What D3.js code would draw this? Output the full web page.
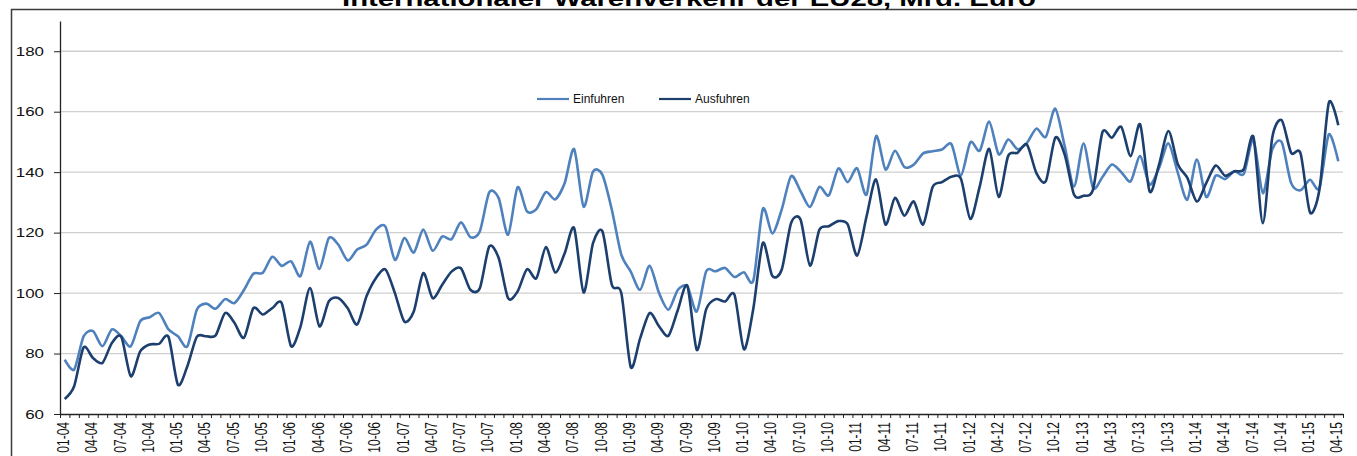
<!DOCTYPE html>
<html>
<head>
<meta charset="utf-8">
<script src="https://cdn.jsdelivr.net/npm/d3@7"></script>
<style>
  body { margin: 0; background: #fff; }
  svg { display: block; font-family: "Liberation Sans", Arial, sans-serif; }
</style>
</head>
<body>
<div id="plot"></div>
<script>
// chart data (Mrd. Euro, monthly 01-04 .. 04-15)
const years = [4, 5, 6, 7, 8, 9, 10, 11, 12, 13, 14, 15];
const monthNames = ["01", "02", "03", "04", "05", "06", "07", "08", "09", "10", "11", "12"];
const lastMonths = 4; // 2015 only up to April

const einfuhren = [78, 74.7, 85.7, 87.4, 82.4, 88, 85.7, 82.4, 90.7, 92, 93.4, 88,
  85.7, 82.4, 94.5, 96.5, 94.8, 98, 96.7, 101, 106.4, 106.7, 112, 109,
  110.5, 105.6, 117, 108, 118.2, 116, 110.8, 114.4, 116, 121, 122, 111,
  118.2, 113.4, 121, 114, 118.7, 117.8, 123.4, 118.5, 120.4, 133.3, 131.4, 119.3,
  135, 127, 127.8, 133.4, 131, 136.4, 147.6, 128.6, 140.2, 139.1, 127.5, 112.7,
  107.1, 101.1, 109, 100, 94.5, 101.1, 102.2, 93.9, 107.2, 107.2, 108.3, 105.3,
  106.9, 104.2, 127.8, 119.7, 127.6, 138.7, 133.7, 128.5, 135.1, 132.3, 141.2, 136.7,
  141.3, 132.6, 151.9, 140.9, 147.1, 141.7, 142.5, 146.2, 146.9, 147.5, 149.2, 138.9,
  149.9, 147.1, 156.7, 145.9, 150.8, 147.6, 149.7, 154.4, 151.7, 161, 148.6, 135.3,
  149.5, 134.8, 138.4, 142.5, 140, 137, 145.3, 135.9, 141.4, 149.5, 139.7, 130.9,
  144.2, 131.8, 138.8, 137.7, 140.3, 139.5, 150.8, 133.1, 147.5, 149.9, 136.4, 134,
  137.5, 134.8, 152.5, 143.6];

const ausfuhren = [65, 69.2, 82, 78.5, 76.9, 83.5, 85.5, 72.5, 80.7, 83, 83.2, 85.5,
  69.7, 75.8, 85.5, 85.7, 86, 93.4, 90.1, 85.2, 95, 92.9, 95, 96.7,
  82.4, 89, 101.7, 89, 97.3, 98.4, 95, 89.6, 99, 105, 107.8, 100,
  90.6, 93.9, 106.6, 98.3, 102.7, 107.1, 108.2, 101.1, 101.6, 115.4, 111.6, 98.3,
  100.5, 107.9, 104.9, 115.2, 106.8, 113.2, 121.5, 100.2, 116.5, 120.4, 102.7, 100,
  75.5, 85.1, 93.4, 89, 85.9, 94.5, 102.4, 81.2, 94.7, 98, 97.2, 99.4,
  81.4, 95, 116.6, 105.7, 107.7, 123.2, 124.3, 109.1, 121, 122.1, 123.8, 122.7,
  112.4, 125.4, 137.6, 122.7, 131.5, 125.6, 130.3, 122.7, 135.1, 136.7, 138.5, 137.8,
  124.5, 135.4, 147.7, 131.8, 145.3, 146.4, 149.1, 139.7, 137, 151.4, 145.8, 132.5,
  132.2, 134.2, 153.2, 151.4, 155, 145.3, 155.8, 133.6, 142.5, 153.6, 142.5, 138.1,
  130.3, 136.4, 142.2, 138.8, 140.3, 141.1, 151.7, 123.1, 151.4, 157.2, 146.4, 146.2,
  126.7, 134.2, 163, 155.5];

const yTicks = [60, 80, 100, 120, 140, 160, 180];
const seriesNames = ["Einfuhren", "Ausfuhren"];

// month categories like "01-04"
const months = [];
years.forEach((yr, yi) => {
  const n = yi === years.length - 1 ? lastMonths : 12;
  for (let m = 0; m < n; m++) months.push(monthNames[m] + "-" + String(yr).padStart(2, "0"));
});
const tickLabels = months.filter((d, i) => i % 3 === 0);

const width = 1357, height = 456;
const plotLeft = 60, plotRight = 1343, plotTop = 21, plotBottom = 414;
const colors = ["#4F81BD", "#1C3F6E"];

const svg = d3.select("#plot").append("svg")
  .attr("width", width)
  .attr("height", height);

// outer chart frame (only left and top visible)
svg.append("path")
  .attr("d", `M11.5,${height} V9.5 H${width}`)
  .attr("fill", "none")
  .attr("stroke", "#3a3a3a")
  .attr("stroke-width", 1.5);

// title, cut off at the top
svg.append("text")
  .attr("x", 689)
  .attr("y", 6)
  .attr("text-anchor", "middle")
  .attr("font-size", 22)
  .attr("font-weight", "bold")
  .attr("textLength", 694)
  .attr("lengthAdjust", "spacingAndGlyphs")
  .text("Internationaler Warenverkehr der EU28, Mrd. Euro");

const x = d3.scaleBand().domain(months).range([plotLeft, plotRight]).padding(0);
const xEdge = d3.scaleLinear().domain([0, months.length]).range([plotLeft, plotRight]);
const y = d3.scaleLinear().domain([60, 190]).range([plotBottom, plotTop]);

// gridlines
svg.append("g")
  .selectAll("line")
  .data(yTicks.slice(1))
  .join("line")
    .attr("x1", plotLeft).attr("x2", plotRight)
    .attr("y1", d => y(d)).attr("y2", d => y(d))
    .attr("stroke", "#cfcfcf")
    .attr("stroke-width", 1.3);

// y axis
const yAxis = svg.append("g")
  .attr("transform", `translate(${plotLeft},0)`)
  .call(d3.axisLeft(y).tickValues(yTicks).tickSize(6).tickPadding(10).tickSizeOuter(0));
yAxis.select(".domain").attr("stroke", "#222").attr("stroke-width", 1.3);
yAxis.selectAll(".tick line").attr("stroke", "#222");
yAxis.selectAll("text")
  .attr("font-size", 13)
  .attr("fill", "#111")
  .attr("font-family", "Liberation Sans, Arial, sans-serif")
  .each(function() {
    const w = this.getComputedTextLength();
    d3.select(this).attr("textLength", w * 1.3).attr("lengthAdjust", "spacingAndGlyphs");
  });

// x axis: ticks on month boundaries
const xTickAxis = svg.append("g")
  .attr("transform", `translate(0,${plotBottom})`)
  .call(d3.axisBottom(xEdge).tickValues(d3.range(months.length + 1)).tickFormat("").tickSize(4).tickSizeOuter(0));
xTickAxis.select(".domain").attr("stroke", "#222").attr("stroke-width", 1.3);
xTickAxis.selectAll(".tick line").attr("stroke", "#222");

// x axis labels every quarter, rotated
const xLabelAxis = svg.append("g")
  .attr("transform", `translate(0,${plotBottom})`)
  .call(d3.axisBottom(x).tickValues(tickLabels).tickSize(0));
xLabelAxis.select(".domain").remove();
xLabelAxis.selectAll("text")
  .attr("font-size", 12)
  .attr("fill", "#111")
  .attr("font-family", "Liberation Sans, Arial, sans-serif")
  .attr("text-anchor", "end")
  .attr("x", -8)
  .attr("y", 0)
  .attr("dy", "0.35em")
  .attr("transform", "translate(-1.5,0) scale(1.35,1) rotate(-90)");

// lines
const line = d3.line()
  .x((d, i) => x(months[i]) + x.bandwidth() / 2)
  .y(d => y(d))
  .curve(d3.curveCardinal.tension(0.2));

[einfuhren, ausfuhren].forEach((s, k) => {
  svg.append("path")
    .datum(s)
    .attr("fill", "none")
    .attr("stroke", colors[k])
    .attr("stroke-width", 2.6)
    .attr("stroke-linejoin", "round")
    .attr("d", line);
});

// legend
const legendX = [537, 659];
const legend = svg.append("g");
seriesNames.forEach((name, k) => {
  legend.append("line")
    .attr("x1", legendX[k]).attr("x2", legendX[k] + 32)
    .attr("y1", 99).attr("y2", 99)
    .attr("stroke", colors[k])
    .attr("stroke-width", 2.2);
  legend.append("text")
    .attr("x", legendX[k] + 36)
    .attr("y", 103)
    .attr("font-size", 12)
    .attr("fill", "#111")
    .text(name);
});
</script>
</body>
</html>
